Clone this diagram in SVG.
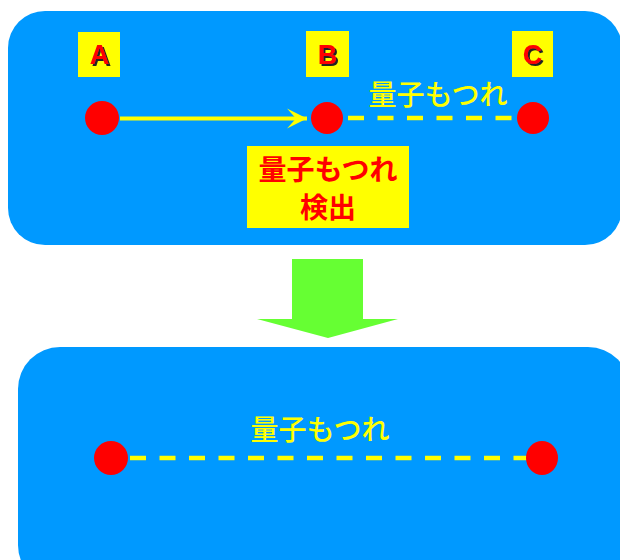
<svg xmlns="http://www.w3.org/2000/svg" width="620" height="560" viewBox="0 0 620 560">
<defs>
<style>
.panel{fill:#0099FF}
.lbl{fill:#FFFF00}
.dot{fill:#FF0000}
.let{font-family:"Liberation Sans",Arial,sans-serif;font-weight:bold;font-size:27px;text-anchor:middle;fill:#FF0000;filter:url(#sh)}
.jp{font-family:"Noto Sans CJK JP",sans-serif;font-size:28px;text-anchor:middle}
.ent{fill:none;stroke:#FFFF00;stroke-width:4.5;stroke-dasharray:16 13.5}
</style>
<filter id="sh" x="-20%" y="-20%" width="150%" height="150%">
<feDropShadow dx="2" dy="2" stdDeviation="0.4" flood-color="#222" flood-opacity="1"/>
</filter>
<marker id="ah" viewBox="0 0 22 22" refX="20" refY="11" markerWidth="22" markerHeight="22" markerUnits="userSpaceOnUse" orient="auto">
<path d="M0,1 L20,11 L0,21 L9,11 Z" fill="#FFFF00"/>
</marker>
</defs>
<rect class="panel" x="8" y="11" width="614" height="234" rx="37"/>
<rect class="panel" x="18" y="347" width="612" height="240" rx="42"/>
<g id="connectors">
<line x1="120" y1="118.5" x2="307" y2="118.5" stroke="#FFFF00" stroke-width="4" marker-end="url(#ah)"/>
<line class="ent" x1="348" y1="118" x2="518" y2="118"/>
<line class="ent" x1="130" y1="458" x2="527" y2="458"/>
<text class="jp" x="438" y="105" fill="#FFFF00" font-weight="500">量子もつれ</text>
<text class="jp" x="320" y="440" fill="#FFFF00" font-weight="500">量子もつれ</text>
</g>
<g id="labelA">
<rect class="lbl" x="78" y="32" width="42" height="45"/>
<text class="let" x="99.5" y="64">A</text>
</g>
<g id="labelB">
<rect class="lbl" x="306" y="31" width="43" height="46"/>
<text class="let" x="327.5" y="64">B</text>
</g>
<g id="labelC">
<rect class="lbl" x="512" y="31" width="41" height="46"/>
<text class="let" x="532.5" y="64">C</text>
</g>
<g id="nodeA"><circle class="dot" cx="102" cy="118" r="17"/></g>
<g id="nodeB"><circle class="dot" cx="327" cy="118" r="16"/></g>
<g id="nodeC"><circle class="dot" cx="533" cy="118" r="16"/></g>
<g id="detect">
<rect class="lbl" x="247" y="146" width="162" height="82"/>
<text class="jp" x="328" y="180" fill="#FF0000" font-weight="bold" font-size="26">量子もつれ</text>
<text class="jp" x="328" y="218" fill="#FF0000" font-weight="bold" font-size="26">検出</text>
</g>
<g id="downArrow">
<path d="M292,259 H363 V319 H398 L328,338 L257,319 H292 Z" fill="#66FF33"/>
</g>
<g id="nodeL"><ellipse class="dot" cx="111" cy="458" rx="17" ry="17"/></g>
<g id="nodeR"><ellipse class="dot" cx="542" cy="458" rx="16" ry="17"/></g>
</svg>
